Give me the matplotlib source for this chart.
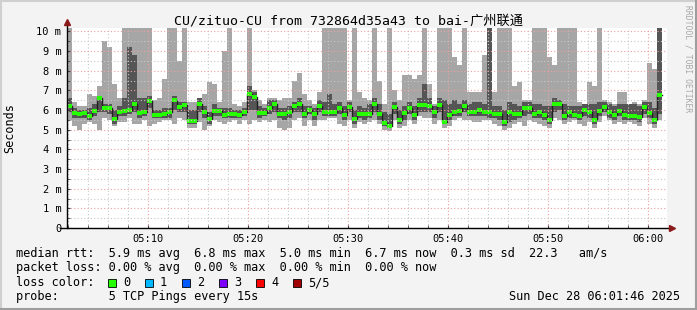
import matplotlib
matplotlib.use('Agg')
import matplotlib.pyplot as plt
from matplotlib.patches import Rectangle
from matplotlib.lines import Line2D
import numpy as np

# time in minutes after 05:00, one step per 30 s
t_start = 1.9
step = 0.5

# five sorted pings per step (ms): min, 2nd, median, 4th, max
ping_min = [5.5, 5.2, 5.0, 5.3, 5.4, 5.3, 5.0, 5.6, 5.5, 5.2, 5.4, 5.4, 5.6, 5.3, 5.3, 5.5, 5.2, 5.3, 5.4, 5.5,
            5.5, 5.3, 5.6, 5.5, 5.1, 5.1, 5.4, 5.0, 5.2, 5.5, 5.4, 5.3, 5.4, 5.5, 5.3, 5.5, 5.3, 5.5, 5.4, 5.5,
            5.4, 5.5, 5.1, 5.0, 5.1, 5.5, 5.6, 5.2, 5.5, 5.2, 5.5, 5.5, 5.6, 5.6, 5.3, 5.2, 5.5, 5.1, 5.4, 5.3,
            5.4, 5.5, 5.3, 5.0, 4.95, 5.5, 5.1, 5.2, 5.5, 5.3, 5.7, 5.6, 5.6, 5.3, 5.5, 5.1, 5.2, 5.5, 5.6, 5.5,
            5.5, 5.4, 5.4, 5.5, 5.5, 5.3, 5.2, 5.0, 5.1, 5.3, 5.4, 5.2, 5.5, 5.4, 5.3, 5.2, 5.1, 5.6, 5.5, 5.3,
            5.4, 5.5, 5.3, 5.2, 5.4, 5.1, 5.4, 5.7, 5.5, 5.3, 5.4, 5.3, 5.4, 5.3, 5.2, 5.6, 5.3, 5.1, 5.5]
ping_lo = [5.9, 5.6, 5.6, 5.6, 5.5, 5.7, 5.9, 5.9, 5.8, 5.3, 5.7, 5.7, 5.8, 5.9, 5.6, 5.7, 6.1, 5.6, 5.6, 5.6,
           5.6, 6.0, 5.9, 5.9, 5.3, 5.3, 5.9, 5.6, 5.3, 5.7, 5.7, 5.6, 5.6, 5.6, 5.6, 5.7, 6.0, 6.0, 5.6, 5.7,
           5.8, 5.9, 5.6, 5.5, 5.6, 5.9, 5.9, 5.6, 5.8, 5.5, 5.9, 5.7, 5.7, 5.7, 5.8, 5.5, 5.9, 5.3, 5.6, 5.5,
           5.6, 5.9, 5.5, 5.2, 5.1, 5.8, 5.3, 5.5, 5.8, 5.5, 5.9, 5.9, 5.9, 5.6, 5.9, 5.3, 5.5, 5.7, 5.7, 5.9,
           5.7, 5.7, 5.7, 5.7, 5.6, 5.6, 5.5, 5.2, 5.4, 5.5, 5.6, 5.7, 5.8, 5.6, 5.6, 5.5, 5.3, 5.9, 6.0, 5.5,
           5.6, 5.6, 5.5, 5.7, 5.6, 5.3, 5.7, 5.9, 5.6, 5.5, 5.7, 5.5, 5.5, 5.5, 5.4, 5.8, 5.6, 5.3, 5.8]
ping_med = [6.2, 5.85, 5.8, 5.85, 5.7, 5.95, 6.6, 6.1, 6.1, 5.55, 5.9, 5.95, 6.0, 6.3, 5.85, 5.9, 6.45, 5.75, 5.75, 5.8,
            5.9, 6.5, 6.15, 6.25, 5.45, 5.45, 6.3, 5.9, 5.55, 5.95, 5.95, 5.75, 5.8, 5.8, 5.75, 5.9, 6.8, 6.65, 5.85, 5.85,
            6.1, 6.3, 5.8, 5.8, 5.9, 6.2, 6.3, 5.8, 6.0, 5.8, 6.2, 5.9, 5.9, 5.9, 6.1, 5.75, 6.15, 5.55, 5.8, 5.8,
            5.8, 6.3, 5.8, 5.35, 5.2, 6.15, 5.5, 5.85, 6.1, 5.75, 6.25, 6.25, 6.2, 5.9, 6.25, 5.4, 5.75, 5.9, 5.95, 6.2,
            5.9, 5.9, 6.0, 5.9, 5.9, 5.8, 5.8, 5.4, 5.9, 5.8, 5.8, 6.1, 6.1, 5.8, 5.9, 5.75, 5.5, 6.3, 6.3, 5.7,
            5.9, 5.75, 5.7, 6.0, 5.9, 5.5, 5.95, 6.15, 5.9, 5.75, 5.95, 5.75, 5.7, 5.7, 5.65, 6.15, 5.85, 5.5, 6.75]
ping_hi = [6.6, 6.1, 6.0, 6.0, 6.1, 6.3, 6.7, 6.3, 6.3, 6.0, 6.2, 6.6, 9.2, 8.8, 6.6, 6.6, 6.7, 6.0, 6.0, 6.1,
           6.1, 6.7, 6.4, 6.4, 6.0, 6.0, 6.6, 6.2, 5.9, 6.3, 6.1, 6.1, 6.1, 6.0, 6.0, 6.1, 7.2, 6.9, 6.2, 6.1,
           6.5, 6.5, 6.1, 6.1, 6.2, 6.4, 6.6, 6.2, 6.2, 6.1, 6.5, 6.4, 6.8, 6.3, 6.4, 6.2, 6.4, 6.0, 6.2, 6.1,
           6.3, 6.6, 6.3, 5.9, 5.8, 6.4, 6.0, 6.2, 6.4, 6.2, 6.6, 7.3, 6.6, 6.2, 6.6, 6.5, 6.3, 6.5, 6.3, 6.5,
           6.3, 6.4, 6.4, 6.3, 10.5, 6.2, 6.2, 6.0, 6.4, 6.3, 6.2, 6.4, 6.4, 6.3, 6.3, 6.2, 6.2, 6.6, 6.5, 6.3,
           6.2, 6.2, 6.2, 6.3, 6.3, 6.3, 6.4, 6.4, 6.3, 6.2, 6.3, 6.3, 6.3, 6.3, 6.2, 6.4, 6.4, 6.1, 10.5]
ping_max = [10.5, 6.4, 6.2, 6.2, 6.8, 6.7, 7.2, 9.5, 9.2, 7.3, 6.6, 10.5, 10.5, 10.5, 10.5, 10.5, 10.5, 6.5, 6.6, 7.6,
            10.5, 10.5, 8.5, 10.5, 6.4, 6.4, 6.6, 6.8, 7.4, 7.3, 6.4, 9.0, 10.5, 6.3, 6.2, 6.4, 10.5, 7.0, 6.5, 6.3,
            6.6, 6.6, 6.5, 6.6, 6.6, 7.5, 7.9, 6.8, 6.5, 6.3, 6.9, 10.5, 10.5, 10.5, 10.5, 10.5, 6.5, 10.5, 6.9, 6.6,
            6.5, 10.5, 7.5, 6.3, 10.5, 7.0, 6.5, 7.8, 7.8, 7.6, 7.8, 10.5, 7.3, 6.3, 10.5, 10.5, 10.5, 8.7, 8.3, 10.5,
            6.9, 6.9, 6.9, 8.8, 10.5, 6.9, 10.5, 10.5, 10.5, 7.2, 7.4, 6.5, 6.5, 10.5, 10.5, 10.5, 8.7, 8.3, 10.5, 10.5,
            10.5, 10.5, 6.4, 6.3, 7.4, 7.2, 10.5, 6.5, 6.4, 6.3, 6.9, 6.9, 6.3, 6.4, 6.3, 6.5, 8.4, 8.1, 10.5]

tick_pos = [10, 20, 30, 40, 50, 60]
tick_labels = ['05:10', '05:20', '05:30', '05:40', '05:50', '06:00']
ytick_labels = ['0', '1 m', '2 m', '3 m', '4 m', '5 m', '6 m', '7 m', '8 m', '9 m', '10 m']

loss_names = ['0', '1', '2', '3', '4', '5/5']
loss_colors = ['#26ff00', '#00b8ff', '#0059ff', '#7e00ff', '#ff0000', '#a10000']

title = 'CU/zituo-CU from 732864d35a43 to bai-广州联通'
rtt_line = 'median rtt:  5.9 ms avg  6.8 ms max  5.0 ms min  6.7 ms now  0.3 ms sd  22.3   am/s'
loss_line = 'packet loss: 0.00 % avg  0.00 % max  0.00 % min  0.00 % now'
probe_line = 'probe:       5 TCP Pings every 15s'
stamp = 'Sun Dec 28 06:01:46 2025'

mono = ['DejaVu Sans Mono', 'Noto Sans CJK SC']
W, H = 697, 310

fig = plt.figure(figsize=(W / 100, H / 100), dpi=100, facecolor='#f3f3f3')
ax = fig.add_axes([67 / W, 1 - 228 / H, 600 / W, 200 / H])
ax.set_facecolor('white')

t = t_start + step * np.arange(len(ping_med))
pmin, plo, pmed = np.array(ping_min), np.array(ping_lo), np.array(ping_med)
phi, pmax = np.array(ping_hi), np.array(ping_max)

# smoke
ax.bar(t, pmax - pmin, bottom=pmin, width=step, align='edge', color='#a6a6a6', lw=0, zorder=1)
ax.bar(t, phi - plo, bottom=plo, width=step, align='edge', color='#555555', lw=0, zorder=1.1)
# median line + loss colour
ax.step(np.append(t, t[-1] + step), np.append(pmed, pmed[-1]), where='post',
        color='#202020', lw=1, zorder=1.2)
sw = 0.2
ax.bar(t, sw, bottom=pmed - sw / 2, width=step, align='edge', color=loss_colors[0], lw=0, zorder=1.3)

ax.set_xlim(1.9, 61.9)
ax.set_ylim(0, 10.17)
ax.set_xticks(tick_pos)
ax.set_xticklabels(tick_labels, family=mono, fontsize=7.5)
ax.set_xticks([m for m in range(2, 62, 2) if m % 10], minor=True)
ax.set_yticks(range(11))
ax.set_yticklabels(ytick_labels, family=mono, fontsize=7.5)
ax.set_yticks(np.arange(0.5, 10.5, 1), minor=True)
ax.set_axisbelow(False)
ax.grid(which='major', color='#f0a0a0', ls=(0, (1, 2)), lw=0.8)
ax.grid(which='minor', color='#c8c8c8', ls=(0, (1, 2)), lw=0.8)
ax.tick_params(which='both', direction='in', length=2, color='#404040', pad=4)
for s in ax.spines.values():
    s.set_visible(False)

# axes with arrows
ax.plot([0, 0], [0, 1.03], transform=ax.transAxes, color='black', lw=1, clip_on=False, zorder=5)
ax.plot([-0.012, 1.008], [0, 0], transform=ax.transAxes, color='black', lw=1, clip_on=False, zorder=5)
ax.plot([0], [1.03], marker='^', ms=4, color='#8b1a1a', transform=ax.transAxes, clip_on=False, zorder=6)
ax.plot([1.008], [0], marker='>', ms=4, color='#8b1a1a', transform=ax.transAxes, clip_on=False, zorder=6)

ax.set_ylabel('Seconds', family=mono, fontsize=8.5)
ax.yaxis.set_label_coords(-51 / 600, 0.5)

fig.text(348 / W, 1 - 21 / H, title, family=mono, fontsize=9.5, ha='center', va='center')
fig.text(688 / W, 1 - 5 / H, 'RRDTOOL / TOBI OETIKER', family=mono, fontsize=5.8,
         color='#a8a8a8', rotation=-90, ha='center', va='top')

fs = 8.6
fig.text(16 / W, 1 - 254 / H, rtt_line, family=mono, fontsize=fs, va='center')
fig.text(16 / W, 1 - 268 / H, loss_line, family=mono, fontsize=fs, va='center')
fig.text(16 / W, 1 - 282.5 / H, 'loss color:', family=mono, fontsize=fs, va='center')
for i, (name, c) in enumerate(zip(loss_names, loss_colors)):
    x0 = 108 + 37 * i
    fig.add_artist(Rectangle((x0 / W, 1 - 286.5 / H), 8 / W, 8 / H, transform=fig.transFigure,
                             facecolor=c, edgecolor='black', lw=0.6))
    fig.text((x0 + 15) / W, 1 - 282.5 / H, name, family=mono, fontsize=fs, va='center')
fig.text(16 / W, 1 - 296.5 / H, probe_line, family=mono, fontsize=fs, va='center')
fig.text(680 / W, 1 - 296.5 / H, stamp, family=mono, fontsize=fs, va='center', ha='right')

# 3d frame
fig.add_artist(Line2D([0, 1], [1 - 1 / H, 1 - 1 / H], color='#cfcfcf', lw=1.5, transform=fig.transFigure))
fig.add_artist(Line2D([1 / W, 1 / W], [0, 1], color='#cfcfcf', lw=1.5, transform=fig.transFigure))
fig.add_artist(Line2D([0, 1], [1 / H, 1 / H], color='#9e9e9e', lw=1.5, transform=fig.transFigure))
fig.add_artist(Line2D([1 - 1 / W, 1 - 1 / W], [0, 1], color='#9e9e9e', lw=1.5, transform=fig.transFigure))

fig.savefig('out.png', dpi=100, facecolor=fig.get_facecolor())
